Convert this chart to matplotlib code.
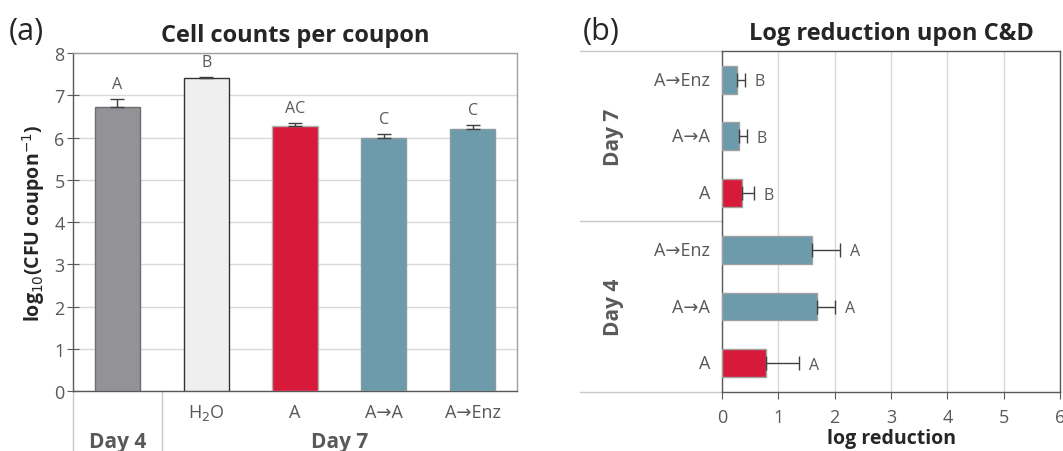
import matplotlib
matplotlib.use("Agg")
import matplotlib.pyplot as plt
import numpy as np

# ---- data panel (a)
a_cats = ["", "H$_2$O", "A", "A→A", "A→Enz"]
a_vals = [6.72, 7.42, 6.27, 5.99, 6.19]
a_err = [0.20, 0.02, 0.07, 0.10, 0.10]
a_letters = ["A", "B", "AC", "C", "C"]
a_groups = ["Day 4", "Day 7"]

# ---- data panel (b) (bottom to top)
b_cats = ["A", "A→A", "A→Enz", "A", "A→A", "A→Enz"]
b_vals = [0.79, 1.69, 1.60, 0.355, 0.30, 0.26]
b_err = [0.58, 0.32, 0.50, 0.21, 0.14, 0.15]
b_letters = ["A", "A", "A", "B", "B", "B"]
b_groups = ["Day 4", "Day 7"]

GRAY = "#939397"
WHITE = "#efefef"
RED = "#d7193a"
TEAL = "#6d9bab"
a_colors = [GRAY, WHITE, RED, TEAL, TEAL]
a_edges = ["#6e6e6e", "#333333", "#b0b0b0", "#8a9aa0", "#8a9aa0"]
b_colors = [RED, TEAL, TEAL, RED, TEAL, TEAL]

TXT = "#595959"
DARK = "#262626"
SPINE = "#595959"
GRID = "#d9d9d9"
FAM = ["Open Sans", "DejaVu Sans"]
plt.rcParams["font.family"] = FAM

fig = plt.figure(figsize=(10.63, 4.52), dpi=100)

# ================= panel (a)
ax = fig.add_axes([0.0687, 0.1327, 0.4177, 0.7478])
x = np.arange(len(a_vals))
ax.bar(x, a_vals, width=0.51, color=a_colors, edgecolor=a_edges, linewidth=1.0, zorder=3)
ax.errorbar(x, a_vals, yerr=[np.zeros(len(a_err)), a_err], fmt="none", ecolor="#404040",
            elinewidth=1.0, capsize=5, capthick=1.0, zorder=4)
for xi, v, e, l in zip(x, a_vals, a_err, a_letters):
    ax.annotate(l, (xi, v + e), xytext=(0, 5), textcoords="offset points",
                ha="center", va="bottom", fontsize=11.5, color=TXT)
ax.set_xlim(-0.5, 4.5)
ax.set_ylim(0, 8)
ax.set_yticks(range(0, 9))
ax.yaxis.grid(True, color=GRID, linewidth=1.0, zorder=0)
ax.set_axisbelow(True)
ax.set_xticks([])
ax.tick_params(axis="y", direction="inout", length=8, color=SPINE, labelsize=13,
               labelcolor=TXT, pad=2)
for s in ax.spines.values():
    s.set_color(SPINE)
    s.set_linewidth(1.0)
ax.spines["top"].set_color("#a0a0a0")
ax.spines["right"].set_color("#a0a0a0")
ax.set_ylabel("log$_{10}$(CFU coupon$^{-1}$)", fontsize=14, fontweight="bold", color=DARK, labelpad=5)
ax.set_title("Cell counts per coupon", fontsize=17, fontweight="bold", color=DARK, pad=9)
tr = ax.get_xaxis_transform()
for xi, lab in zip(x, a_cats):
    ax.text(xi, -0.062, lab, transform=tr, ha="center", va="center", fontsize=13, color=TXT)
ax.text(0, -0.148, a_groups[0], transform=tr, ha="center", va="center", fontsize=15,
        fontweight="bold", color=TXT)
ax.text(2.5, -0.148, a_groups[1], transform=tr, ha="center", va="center", fontsize=15,
        fontweight="bold", color=TXT)
for xs in [-0.5, 0.5]:
    ax.plot([xs, xs], [0, -0.2], transform=tr, color="#c8c8c8", linewidth=1.0, clip_on=False)
fig.text(0.008, 0.93, "(a)", fontsize=22, color=DARK, ha="left", va="center")

# ================= panel (b)
bx = fig.add_axes([0.6792, 0.1312, 0.318, 0.7531])
y = np.arange(len(b_vals))
bx.barh(y, b_vals, height=0.49, color=b_colors, edgecolor="#a0a0a0", linewidth=1.0, zorder=3)
bx.errorbar(b_vals, y, xerr=[np.zeros(len(b_err)), b_err], fmt="none", ecolor="#404040",
            elinewidth=1.0, capsize=5, capthick=1.0, zorder=4)
for yi, v, e, l in zip(y, b_vals, b_err, b_letters):
    bx.annotate(l, (v + e, yi), xytext=(7, -1), textcoords="offset points",
                ha="left", va="center", fontsize=11.5, color=TXT)
bx.set_xlim(0, 6)
bx.set_ylim(-0.5, 5.5)
bx.set_xticks(range(0, 7))
bx.xaxis.grid(True, color=GRID, linewidth=1.0, zorder=0)
bx.set_axisbelow(True)
bx.set_yticks([])
bx.tick_params(axis="x", direction="out", length=5, color=SPINE, labelsize=13,
               labelcolor=TXT, pad=7)
for s in bx.spines.values():
    s.set_color(SPINE)
    s.set_linewidth(1.0)
bx.set_xlabel("log reduction", fontsize=14, fontweight="bold", color=DARK, labelpad=1)
bx.set_title("Log reduction upon C&D", fontsize=17, fontweight="bold", color=DARK, pad=9)
ty = bx.get_yaxis_transform()
for yi, lab in zip(y, b_cats):
    bx.text(-0.035, yi, lab, transform=ty, ha="right", va="center", fontsize=13, color=TXT)
bx.text(-0.32, 1, b_groups[0], transform=ty, ha="center", va="center", fontsize=15,
        fontweight="bold", color=TXT, rotation=90)
bx.text(-0.32, 4, b_groups[1], transform=ty, ha="center", va="center", fontsize=15,
        fontweight="bold", color=TXT, rotation=90)
for ys in [-0.5, 2.5, 5.5]:
    bx.plot([-0.42, 0], [ys, ys], transform=ty, color="#c8c8c8", linewidth=1.0, clip_on=False)
fig.text(0.548, 0.93, "(b)", fontsize=22, color=DARK, ha="left", va="center")

fig.savefig("out.png", dpi=100)
